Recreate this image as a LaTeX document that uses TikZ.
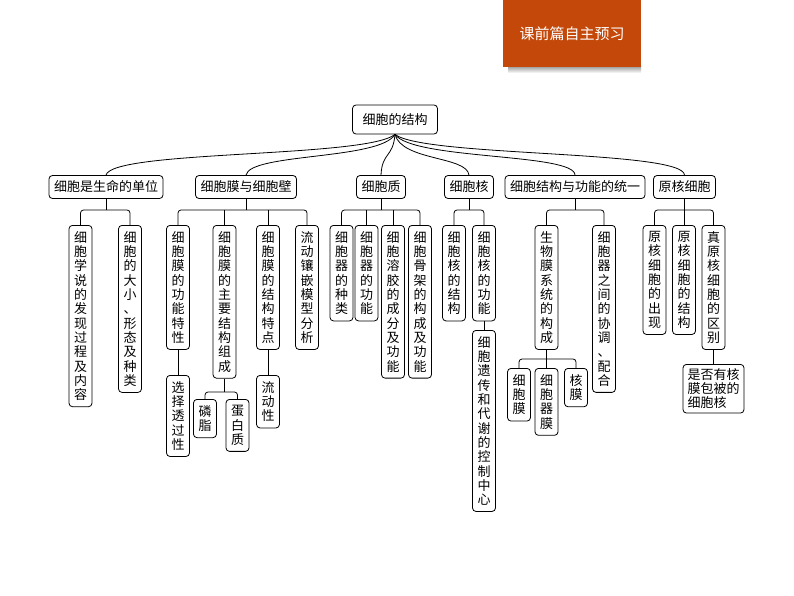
\documentclass[tikz,border=0pt]{standalone}
\usepackage{fontspec}
\newfontfamily\cjk{Noto Sans CJK SC}
\definecolor{bannerc}{RGB}{195,72,10}
\makeatletter
\def\vtaux#1{\ifx\relax#1\else\vtsep#1\gdef\vtsep{\\}\expandafter\vtaux\fi}
\newcommand\vt[1]{\gdef\vtsep{}\vtaux#1\relax}
\makeatother
\tikzset{
  box/.style={draw, line width=0.8pt, rounded corners=3.5pt, font=\cjk\fontsize{13}{14.3}\selectfont},
  hbox/.style={box, inner xsep=5pt, inner ysep=3pt, minimum height=23pt},
  vbox/.style={box, anchor=north, inner xsep=5pt, inner ysep=6pt, text width=13pt, align=center},
  conn/.style={line width=0.8pt, rounded corners=3pt},
}
\begin{document}
\begin{tikzpicture}[x=1pt,y=-1pt]
\useasboundingbox[fill=white] (0,0) rectangle (794,596);
% banner
\shade[top color=gray!70, bottom color=white, draw=none] (508,67) rectangle (641,73);
\fill[bannerc] (503,0) rectangle (641,67);
\node[font=\cjk\fontsize{15}{18}\selectfont, text=white] (banner) at (572,34) {课前篇自主预习};
% root
\node[box, minimum height=29pt, inner xsep=10pt] (root) at (395,119.5) {细胞的结构};
% level 1
\node[hbox] (L1a) at (106,187) {细胞是生命的单位};
\node[hbox] (L1b) at (246,187) {细胞膜与细胞壁};
\node[hbox] (L1c) at (381,187) {细胞质};
\node[hbox] (L1d) at (469,187) {细胞核};
\node[hbox] (L1e) at (575,187) {细胞结构与功能的统一};
\node[hbox] (L1f) at (684.5,187) {原核细胞};
% curves
\draw[conn] (root.south) .. controls (366,158) and (112,150) .. (L1a.north);
\draw[conn] (root.south) .. controls (380,160) and (250,153) .. (L1b.north);
\draw[conn] (root.south) .. controls (393,158) and (382,152) .. (L1c.north);
\draw[conn] (root.south) .. controls (402,161) and (467,156) .. (L1d.north);
\draw[conn] (root.south) .. controls (413,160) and (575,153) .. (L1e.north);
\draw[conn] (root.south) .. controls (424,157) and (684,150) .. (L1f.north);
% level 2
\node[vbox] (A1) at (80.5,225) {\vt{细胞学说的发现过程及内容}};
\node[vbox] (A2) at (130,225) {\vt{细胞的大小、形态及种类}};
\node[vbox] (B1) at (178,225) {\vt{细胞膜的功能特性}};
\node[vbox] (B2) at (224.5,225) {\vt{细胞膜的主要结构组成}};
\node[vbox] (B3) at (268,225) {\vt{细胞膜的结构特点}};
\node[vbox] (B4) at (307,225) {\vt{流动镶嵌模型分析}};
\node[vbox] (C1) at (341.5,225) {\vt{细胞器的种类}};
\node[vbox] (C2) at (366.5,225) {\vt{细胞器的功能}};
\node[vbox] (C3) at (393,225) {\vt{细胞溶胶的成分及功能}};
\node[vbox] (C4) at (420,225) {\vt{细胞骨架的构成及功能}};
\node[vbox] (D1) at (454,225) {\vt{细胞核的结构}};
\node[vbox] (D2) at (484,225) {\vt{细胞核的功能}};
\node[vbox] (E1) at (546.5,225) {\vt{生物膜系统的构成}};
\node[vbox] (E2) at (604,225) {\vt{细胞器之间的协调、配合}};
\node[vbox] (F1) at (654.5,225) {\vt{原核细胞的出现}};
\node[vbox] (F2) at (684,225) {\vt{原核细胞的结构}};
\node[vbox] (F3) at (713.5,225) {\vt{真原核细胞的区别}};
% level 3
\node[vbox] (B1a) at (178,375) {\vt{选择透过性}};
\node[vbox] (B2a) at (205,399) {\vt{磷脂}};
\node[vbox] (B2b) at (237.5,399) {\vt{蛋白质}};
\node[vbox] (B3a) at (268,375) {\vt{流动性}};
\node[vbox] (D2a) at (484,330) {\vt{细胞遗传和代谢的控制中心}};
\node[vbox] (E1a) at (519,368) {\vt{细胞膜}};
\node[vbox] (E1b) at (546.5,368) {\vt{细胞器膜}};
\node[vbox] (E1c) at (576,368) {\vt{核膜}};
\node[box, anchor=north, inner xsep=4.5pt, inner ysep=4pt, text width=52pt, align=left] (F3a) at (713.5,364) {是否有核\\膜包被的\\细胞核};
% bars
\coordinate (barA) at (0,210);
\coordinate (barB) at (0,392);
\coordinate (barC) at (0,359);
% group connectors level 2
\draw[conn] (A1.north) |- (L1a.south |- barA) -| (A2.north);
\draw[conn] (L1a.south) -- (L1a.south |- barA);
\draw[conn] (B1.north) |- (L1b.south |- barA) -| (B4.north);
\draw[conn] (L1b.south) -- (L1b.south |- barA);
\draw[conn] (B2.north) -- (B2.north |- barA);
\draw[conn] (B3.north) -- (B3.north |- barA);
\draw[conn] (C1.north) |- (L1c.south |- barA) -| (C4.north);
\draw[conn] (L1c.south) -- (L1c.south |- barA);
\draw[conn] (C2.north) -- (C2.north |- barA);
\draw[conn] (C3.north) -- (C3.north |- barA);
\draw[conn] (D1.north) |- (L1d.south |- barA) -| (D2.north);
\draw[conn] (L1d.south) -- (L1d.south |- barA);
\draw[conn] (E1.north) |- (L1e.south |- barA) -| (E2.north);
\draw[conn] (L1e.south) -- (L1e.south |- barA);
\draw[conn] (F1.north) |- (L1f.south |- barA) -| (F3.north);
\draw[conn] (L1f.south) -- (L1f.south |- barA);
\draw[conn] (F2.north) -- (F2.north |- barA);
% level 3 connectors
\draw[conn] (B1.south) -- (B1a.north);
\draw[conn] (B2a.north) |- (B2.south |- barB) -| (B2b.north);
\draw[conn] (B2.south) -- (B2.south |- barB);
\draw[conn] (B3.south) -- (B3a.north);
\draw[conn] (D2.south) -- (D2a.north);
\draw[conn] (E1a.north) |- (E1.south |- barC) -| (E1c.north);
\draw[conn] (E1.south) -- (E1b.north);
\draw[conn] (F3.south) -- (F3a.north);
\end{tikzpicture}
\end{document}
